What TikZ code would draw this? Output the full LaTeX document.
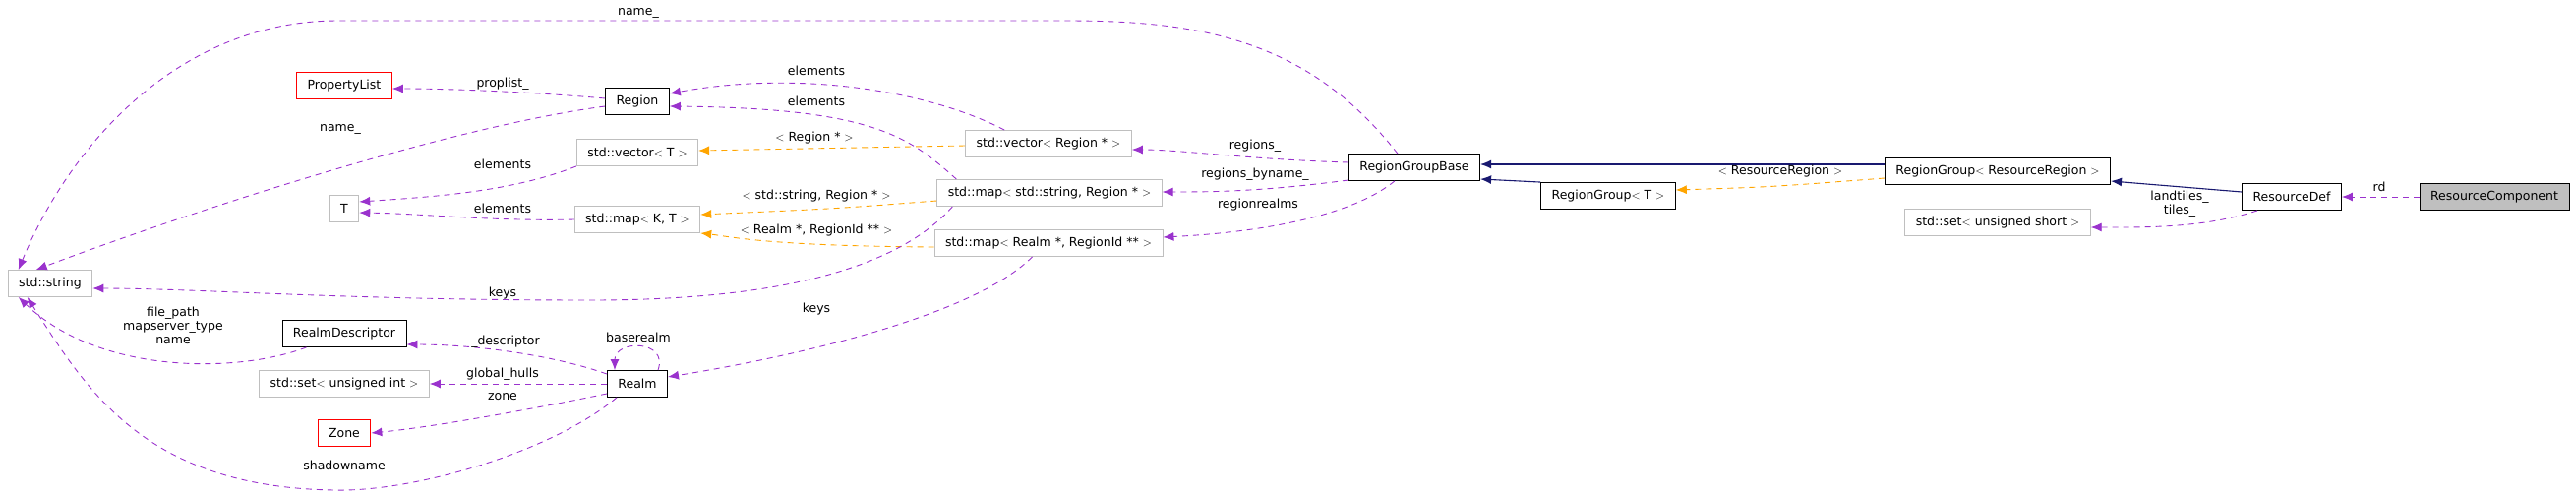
\documentclass[tikz,border=0pt]{standalone}
\usepackage{fontspec}
\setmainfont{DejaVu Sans}
\usetikzlibrary{arrows.meta, positioning}
\definecolor{CPurple}{HTML}{9A32CD}
\definecolor{COrange}{HTML}{FFA500}
\definecolor{CNavy}{HTML}{191970}
\definecolor{CGrey}{HTML}{BFBFBF}
\tikzset{
    box/.style={
        rectangle,
        draw=black,
        fill=white,
        inner xsep=11pt,
        minimum height=27pt,
        font=\fontsize{12.5}{14}\selectfont,
        line width=0.9pt
    },
    extbox/.style={box, draw=CGrey},
    undocbox/.style={box, draw=red},
    focusbox/.style={box, fill=CGrey},
    usage/.style={
        -{Latex[length=11pt, width=9pt]},
        draw=CPurple,
        dash pattern=on 6pt off 5pt,
        line width=0.9pt
    },
    tmpl/.style={usage, draw=COrange},
    inherit/.style={
        -{Latex[length=11pt, width=9pt]},
        draw=CNavy,
        line width=1.1pt
    },
    lbl/.style={
        font=\fontsize{12.5}{14}\selectfont,
        align=center,
        inner sep=0pt
    }
}

\begin{document}
\begin{tikzpicture}[x=1pt, y=-1pt]
    \useasboundingbox (0,0) rectangle (2619,504);

    % Nodes
    \node[extbox] (string) at (51,288) {std::string};
    \node[undocbox] (proplist) at (350,87) {PropertyList};
    \node[box] (region) at (648,103) {Region};
    \node[extbox] (vectorT) at (648,155) {std::vector$<$ T $>$};
    \node[extbox] (T) at (350,212) {T};
    \node[extbox] (mapKT) at (648,223) {std::map$<$ K, T $>$};
    \node[box] (realmdesc) at (350,339) {RealmDescriptor};
    \node[extbox] (setuint) at (350,390) {std::set$<$ unsigned int $>$};
    \node[undocbox] (zone) at (350,440) {Zone};
    \node[box] (realm) at (648,390) {Realm};

    \node[extbox] (vecregion) at (1066,146) {std::vector$<$ Region * $>$};
    \node[extbox] (mapstring) at (1067,196) {std::map$<$ std::string, Region * $>$};
    \node[extbox] (maprealm) at (1066,247) {std::map$<$ Realm *, RegionId ** $>$};
    \node[box] (rgbase) at (1438,170) {RegionGroupBase};
    \node[box] (rgT) at (1635,199) {RegionGroup$<$ T $>$};
    \node[box] (rgres) at (2031,174) {RegionGroup$<$ ResourceRegion $>$};
    \node[extbox] (setushort) at (2031,226) {std::set$<$ unsigned short $>$};
    \node[box] (resdef) at (2330,200) {ResourceDef};
    \node[focusbox] (rescomp) at (2536,200) {ResourceComponent};

    % Inheritance
    \draw[inherit] (rgres.west |- 0,167) -- (rgbase.east |- 0,167);
    \draw[inherit] (rgT.north west) -- (rgbase.east |- 0,182);
    \draw[inherit] (resdef.west |- 0,195) -- (rgres.east |- 0,184);

    % Template instances
    \draw[tmpl] (vecregion.west |- 0,148) -- (vectorT.east |- 0,153);
    \draw[tmpl] (mapstring.west |- 0,204) .. controls (850,212) .. (mapKT.east |- 0,218);
    \draw[tmpl] (maprealm.west |- 0,251) .. controls (780,250) and (740,240) .. (mapKT.south east);
    \draw[tmpl] (rgres.west |- 0,181) .. controls (1800,190) .. (rgT.east |- 0,193);

    % Usage
    \draw[usage] ([xshift=50pt]rgbase.north west)
        .. controls (1330,40) and (1220,21) .. (1084,21) -- (344,21)
        .. controls (180,21) and (70,150) .. ([xshift=11pt]string.north west);
    \draw[usage] (region.west |- 0,108) .. controls (450,130) and (180,220) .. ([xshift=29pt]string.north west);
    \draw[usage] (region.west |- 0,100) .. controls (560,95) and (470,90) .. (proplist.east |- 0,90);
    \draw[usage] (vectorT.south west) .. controls (520,195) and (440,200) .. (T.east |- 0,205);
    \draw[usage] (mapKT.west) .. controls (500,225) and (430,217) .. (T.east |- 0,216);
    \draw[usage] ([xshift=40pt]vecregion.north west)
        .. controls (950,95) and (820,70) .. (region.east |- 0,95);
    \draw[usage] ([xshift=20pt]mapstring.north west)
        .. controls (925,140) and (890,110) .. (region.east |- 0,108);
    \draw[usage] ([xshift=16pt]mapstring.south west)
        .. controls (915,270) and (800,305) .. (600,305)
        .. controls (350,305) and (200,293) .. (string.east |- 0,293);
    \draw[usage] ([xshift=100pt]maprealm.south west)
        .. controls (980,330) and (760,370) .. (realm.east |- 0,383);
    \draw[usage] ([xshift=25pt]realmdesc.south west)
        .. controls (240,380) and (100,380) .. ([xshift=11pt]string.south west);
    \draw[usage] (realm.north west |- 0,380) .. controls (560,360) and (480,350) .. (realmdesc.east |- 0,350);
    \draw[usage] ([xshift=-10pt]realm.north east)
        .. controls (680,345) and (625,345) .. ([xshift=8pt]realm.north west);
    \draw[usage] (realm.west) -- (setuint.east);
    \draw[usage] (realm.south west |- 0,400) .. controls (520,420) and (430,435) .. (zone.east);
    \draw[usage] ([xshift=10pt]realm.south west)
        .. controls (560,460) and (420,500) .. (340,498)
        .. controls (150,495) and (90,400) .. ([xshift=20pt]string.south west);
    \draw[usage] (rgbase.west |- 0,165) .. controls (1270,162) and (1200,152) .. (vecregion.east |- 0,152);
    \draw[usage] (rgbase.west |- 0,183) .. controls (1280,195) and (1230,195) .. (mapstring.east |- 0,195);
    \draw[usage] ([xshift=47pt]rgbase.south west)
        .. controls (1380,215) and (1300,235) .. (maprealm.east |- 0,241);
    \draw[usage] ([xshift=16pt]resdef.south west)
        .. controls (2240,232) and (2180,231) .. (setushort.east |- 0,231);
    \draw[usage] (rescomp.west) -- (resdef.east);

    % Labels
    \node[lbl] (l-name1) at (649,13) {name\_};
    \node[lbl] (l-proplist) at (511,85) {proplist\_};
    \node[lbl] (l-name2) at (346,131) {name\_};
    \node[lbl] (l-elem1) at (511,167) {elements};
    \node[lbl] (l-elem2) at (511,212) {elements};
    \node[lbl] (l-elem3) at (830,72) {elements};
    \node[lbl] (l-elem4) at (830,103) {elements};
    \node[lbl] (l-vecreg) at (828,140) {$<$ Region * $>$};
    \node[lbl] (l-mapstr) at (830,199) {$<$ std::string, Region * $>$};
    \node[lbl] (l-maprlm) at (830,234) {$<$ Realm *, RegionId ** $>$};
    \node[lbl] (l-keys1) at (511,298) {keys};
    \node[lbl] (l-keys2) at (830,314) {keys};
    \node[lbl] (l-rdesc) at (176,331) {file\_path\\mapserver\_type\\name};
    \node[lbl] (l-desc) at (514,347) {\_descriptor};
    \node[lbl] (l-base) at (649,343) {baserealm};
    \node[lbl] (l-hulls) at (511,380) {global\_hulls};
    \node[lbl] (l-zone) at (511,403) {zone};
    \node[lbl] (l-shadow) at (350,473) {shadowname};
    \node[lbl] (l-regions) at (1276,148) {regions\_};
    \node[lbl] (l-byname) at (1276,177) {regions\_byname\_};
    \node[lbl] (l-rrealms) at (1279,208) {regionrealms};
    \node[lbl] (l-resreg) at (1810,174) {$<$ ResourceRegion $>$};
    \node[lbl] (l-tiles) at (2216,207) {landtiles\_\\tiles\_};
    \node[lbl] (l-rd) at (2419,190) {rd};
\end{tikzpicture}
\end{document}
